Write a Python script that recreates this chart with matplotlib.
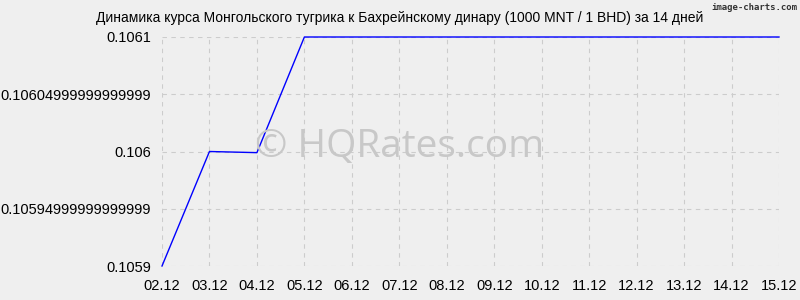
import matplotlib
matplotlib.use("Agg")
import matplotlib.pyplot as plt

dates = ["02.12", "03.12", "04.12", "05.12", "06.12", "07.12", "08.12",
         "09.12", "10.12", "11.12", "12.12", "13.12", "14.12", "15.12"]
rates = [0.1059, 0.10600, 0.105999, 0.1061, 0.1061, 0.1061, 0.1061,
         0.1061, 0.1061, 0.1061, 0.1061, 0.1061, 0.1061, 0.1061]
yticks = [0.1059, 0.10595, 0.106, 0.10605, 0.1061]
ylabels = ["0.1059", "0.10594999999999999", "0.106", "0.10604999999999999", "0.1061"]
title = "Динамика курса Монгольского тугрика к Бахрейнскому динару (1000 MNT / 1 BHD) за 14 дней"

plt.rcParams['font.family'] = ['Liberation Sans', 'DejaVu Sans']
bg = "#efefef"
fig = plt.figure(figsize=(8, 3), dpi=100, facecolor=bg)
ax = fig.add_axes([162/800, 1-266/300, (779-162)/800, (266-37)/300], facecolor=bg)

x = list(range(len(dates)))
ax.plot(x, rates, color="#0000ff", lw=1.0, zorder=3, clip_on=False)
ax.set_xlim(0, len(dates)-1)
ax.set_ylim(yticks[0], yticks[-1])
ax.set_xticks(x)
ax.set_xticklabels(dates, fontsize=10.5)
ax.set_yticks(yticks)
ax.set_yticklabels(ylabels, fontsize=10.5)
ax.tick_params(axis='x', length=0, pad=9)
ax.tick_params(axis='y', length=0, pad=8)
for s in ax.spines.values():
    s.set_visible(False)
ax.grid(True, color="#cccccc", linestyle=(0, (4, 4)), lw=0.8)

fig.text(400/800, 1-147/300, "© HQRates.com", fontsize=28, color="#c8c8c8",
         ha="center", va="center", family=['Open Sans', 'DejaVu Sans'], zorder=0)
fig.text(400/800, 1-18/300, title, fontsize=10, ha="center", va="center")
fig.text(797/800, 1-8/300, "image-charts.com", fontsize=6.5, ha="right", va="center",
         family=['DejaVu Sans Mono'], weight='bold', color="#333333")

fig.savefig("out.png", dpi=100, facecolor=bg)
